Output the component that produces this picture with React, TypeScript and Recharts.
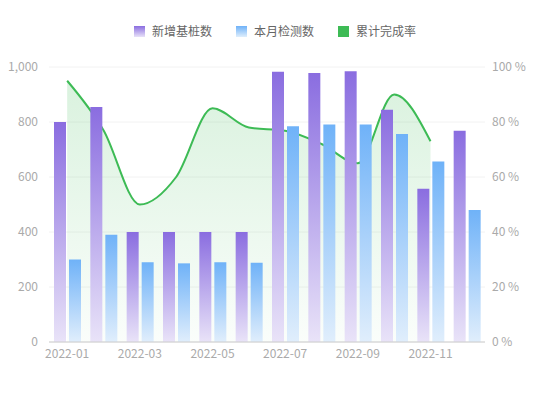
import {
  Area,
  Bar,
  CartesianGrid,
  ComposedChart,
  XAxis,
  YAxis,
} from "recharts";

const months = [
  "2022-01", "2022-02", "2022-03", "2022-04", "2022-05", "2022-06",
  "2022-07", "2022-08", "2022-09", "2022-10", "2022-11", "2022-12",
];
const newPiles = [800, 855, 400, 400, 400, 400, 983, 978, 985, 845, 557, 768];
const monthTests = [300, 390, 290, 286, 290, 288, 785, 791, 791, 756, 656, 480];
const completionRate = [95, 77, 50, 60, 85, 78, 76.8, 72, 65, 90, 73, null];

const leftTicks = [0, 200, 400, 600, 800, 1000];
const rightTicks = [0, 20, 40, 60, 80, 100];

const data = months.map((month, i) => ({
  month,
  newPiles: newPiles[i],
  monthTests: monthTests[i],
  rate: completionRate[i],
}));

const FONT = '"Noto Sans CJK SC", "Noto Sans", sans-serif';
const tickStyle = { fontSize: 12, fill: "#aaa", fontFamily: FONT };

const legendItems = [
  { label: "新增基桩数", fill: "linear-gradient(#8a6de0, #e8e2f8)" },
  { label: "本月检测数", fill: "linear-gradient(#6fb2f8, #dfeefc)" },
  { label: "累计完成率", fill: "#3dbb55" },
];

function LegendBar() {
  return (
    <div
      style={{
        position: "absolute",
        top: 23,
        left: 0,
        width: 550,
        display: "flex",
        justifyContent: "center",
        gap: 24,
        fontSize: 12,
        lineHeight: "16px",
        color: "#666",
      }}
    >
      {legendItems.map((it) => (
        <div key={it.label} style={{ display: "flex", alignItems: "center", gap: 7 }}>
          <span style={{ width: 11, height: 11, background: it.fill, display: "inline-block" }} />
          <span>{it.label}</span>
        </div>
      ))}
    </div>
  );
}

export default function App() {
  return (
    <div
      style={{
        position: "absolute",
        top: 0,
        left: 0,
        width: 550,
        height: 420,
        background: "#fff",
        fontFamily: FONT,
      }}
    >
      <LegendBar />
      <ComposedChart
        width={550}
        height={420}
        data={data}
        margin={{ top: 67, right: 0, left: 0, bottom: 48 }}
        barSize={12}
        barGap={3}
      >
        <defs>
          <linearGradient id="purpleGrad" x1="0" y1="0" x2="0" y2="1">
            <stop offset="0%" stopColor="#8a6de0" />
            <stop offset="100%" stopColor="#e9e3f8" />
          </linearGradient>
          <linearGradient id="blueGrad" x1="0" y1="0" x2="0" y2="1">
            <stop offset="0%" stopColor="#6fb2f8" />
            <stop offset="100%" stopColor="#e0eefc" />
          </linearGradient>
          <linearGradient id="greenGrad" x1="0" y1="0" x2="0" y2="1">
            <stop offset="0%" stopColor="#3dbb55" stopOpacity={0.32} />
            <stop offset="100%" stopColor="#3dbb55" stopOpacity={0.04} />
          </linearGradient>
        </defs>
        <CartesianGrid vertical={false} stroke="#f2f2f2" yAxisId="left" />
        <XAxis
          dataKey="month"
          interval={1}
          tick={tickStyle}
          tickLine={false}
          axisLine={{ stroke: "#ccc" }}
          tickMargin={1}
        />
        <YAxis
          yAxisId="left"
          width={49}
          domain={[0, 1000]}
          ticks={leftTicks}
          tick={tickStyle}
          tickLine={false}
          axisLine={false}
          tickMargin={5}
          tickFormatter={(v: number) => v.toLocaleString("en-US")}
        />
        <YAxis
          yAxisId="rate"
          orientation="right"
          width={65}
          domain={[0, 100]}
          ticks={rightTicks}
          tick={tickStyle}
          tickLine={false}
          axisLine={false}
          tickMargin={1}
          tickFormatter={(v: number) => `${v} %`}
        />
        <Bar yAxisId="left" dataKey="newPiles" fill="url(#purpleGrad)" isAnimationActive={false} />
        <Bar yAxisId="left" dataKey="monthTests" fill="url(#blueGrad)" isAnimationActive={false} />
        <Area
          yAxisId="rate"
          type="monotone"
          dataKey="rate"
          stroke="#3dbb55"
          strokeWidth={2}
          fill="url(#greenGrad)"
          dot={false}
          activeDot={false}
          isAnimationActive={false}
        />
      </ComposedChart>
    </div>
  );
}
